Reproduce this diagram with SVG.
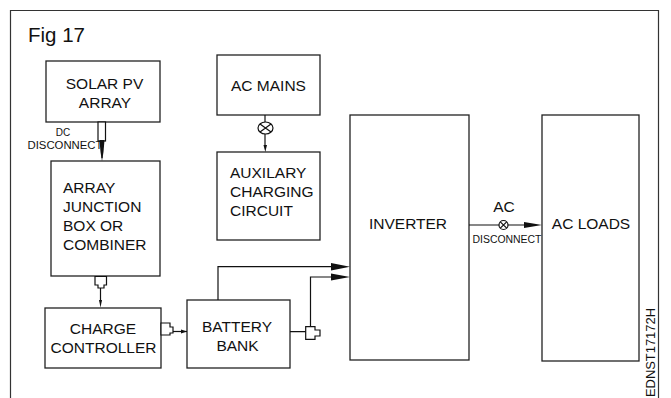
<svg xmlns="http://www.w3.org/2000/svg" width="671" height="398" viewBox="0 0 671 398">
<style>
text{font-family:"Liberation Sans",Arial,sans-serif;fill:#111}
.l{font-size:15.5px;text-anchor:middle}
.t{font-size:15.5px}
.s{font-size:10px;text-anchor:middle}
.b{fill:#fff;stroke:#222;stroke-width:1.3}
.c{fill:none;stroke:#111;stroke-width:1.2}
.g{fill:#fff;stroke:#111;stroke-width:1.2}
.a{fill:#111;stroke:none}
</style>
<rect width="671" height="398" fill="#fff"/>
<path d="M10.500 398V10.500H658.500V398" fill="none" stroke="#333" stroke-width="1.200"/>
<text x="28" y="42" font-size="20.500">Fig 17</text>
<g id="solar"><rect class="b" x="46" y="61" width="114" height="61"/><text class="l" x="104.500" y="89">SOLAR PV</text><text class="l" x="105" y="108">ARRAY</text></g>
<g id="mains"><rect class="b" x="217" y="55" width="103" height="60"/><text class="l" x="268.500" y="91">AC MAINS</text></g>
<g id="aux"><rect class="b" x="217" y="152" width="103" height="88"/><text class="t" x="230" y="178">AUXILARY</text><text class="t" x="230" y="197">CHARGING</text><text class="t" x="230" y="216">CIRCUIT</text></g>
<g id="junction"><rect class="b" x="51" y="161" width="109" height="115"/><text class="t" x="63" y="193">ARRAY</text><text class="t" x="63" y="212">JUNCTION</text><text class="t" x="63" y="231">BOX OR</text><text class="t" x="63" y="250">COMBINER</text></g>
<g id="charge"><rect class="b" x="45" y="308" width="116" height="60"/><text class="l" x="103" y="334">CHARGE</text><text class="l" x="103.500" y="353">CONTROLLER</text></g>
<g id="battery"><rect class="b" x="187" y="300" width="103" height="68"/><text class="l" x="237" y="332">BATTERY</text><text class="l" x="237.500" y="351">BANK</text></g>
<g id="inverter"><rect class="b" x="350" y="115" width="119" height="245"/><text class="l" x="408" y="229">INVERTER</text></g>
<g id="loads"><rect class="b" x="542" y="115" width="97" height="246"/><text class="l" x="591" y="229">AC LOADS</text></g>
<g id="connectors">
<path class="c" d="M102 122V158"/>
<rect class="g" x="98" y="122" width="7.500" height="19"/>
<path class="a" d="M99.500 140h5l-1 12h-3z"/>
<path class="a" d="M100.500 152h3l-1.500 9z"/>
<path class="c" d="M100.500 285V302"/>
<path class="g" d="M95 276.500V285H98V288H104V285H106.500V276.500Z"/>
<path class="a" d="M99 300h3l-1.500 7.500z"/>
<path class="c" d="M173 331.500H187"/>
<path class="g" d="M161 323H170V327H173V333H170V335H161Z"/>
<path class="a" d="M181 329.500v4l6-2z"/>
<path class="c" d="M218 300V266.700H332"/>
<path class="a" d="M331 263L350 266.700L331 270.500Z"/>
<path class="c" d="M290 331.700H306M310.500 327V277H332"/>
<path class="g" d="M305.700 326.700H315V330H320V336H315V339.300H305.700Z"/>
<path class="a" d="M331 273.500L350 277L331 280.500Z"/>
<path class="c" d="M265 115V146"/>
<ellipse class="g" cx="265.500" cy="128" rx="7.500" ry="6"/>
<path class="c" d="M260 124L271 132M260 132L271 124"/>
<path class="a" d="M263.500 145h3.500l-1.700 7z"/>
<path class="c" d="M469 225H525"/>
<circle class="g" cx="503.500" cy="225" r="4.500"/>
<path class="c" d="M500.300 221.800L506.700 228.200M500.300 228.200L506.700 221.800"/>
<path class="a" d="M524 222L542 225L524 228Z"/>
</g>
<text class="s" x="63" y="136">DC</text>
<text class="s" x="65" y="149" textLength="75" lengthAdjust="spacingAndGlyphs">DISCONNECT</text>
<text class="l" x="504" y="212">AC</text>
<text class="s" x="507" y="243" textLength="69" lengthAdjust="spacingAndGlyphs">DISCONNECT</text>
<text x="655" y="397" font-size="12" transform="rotate(-90 655 397)" textLength="89" lengthAdjust="spacingAndGlyphs">EDNST17172H</text>
</svg>
